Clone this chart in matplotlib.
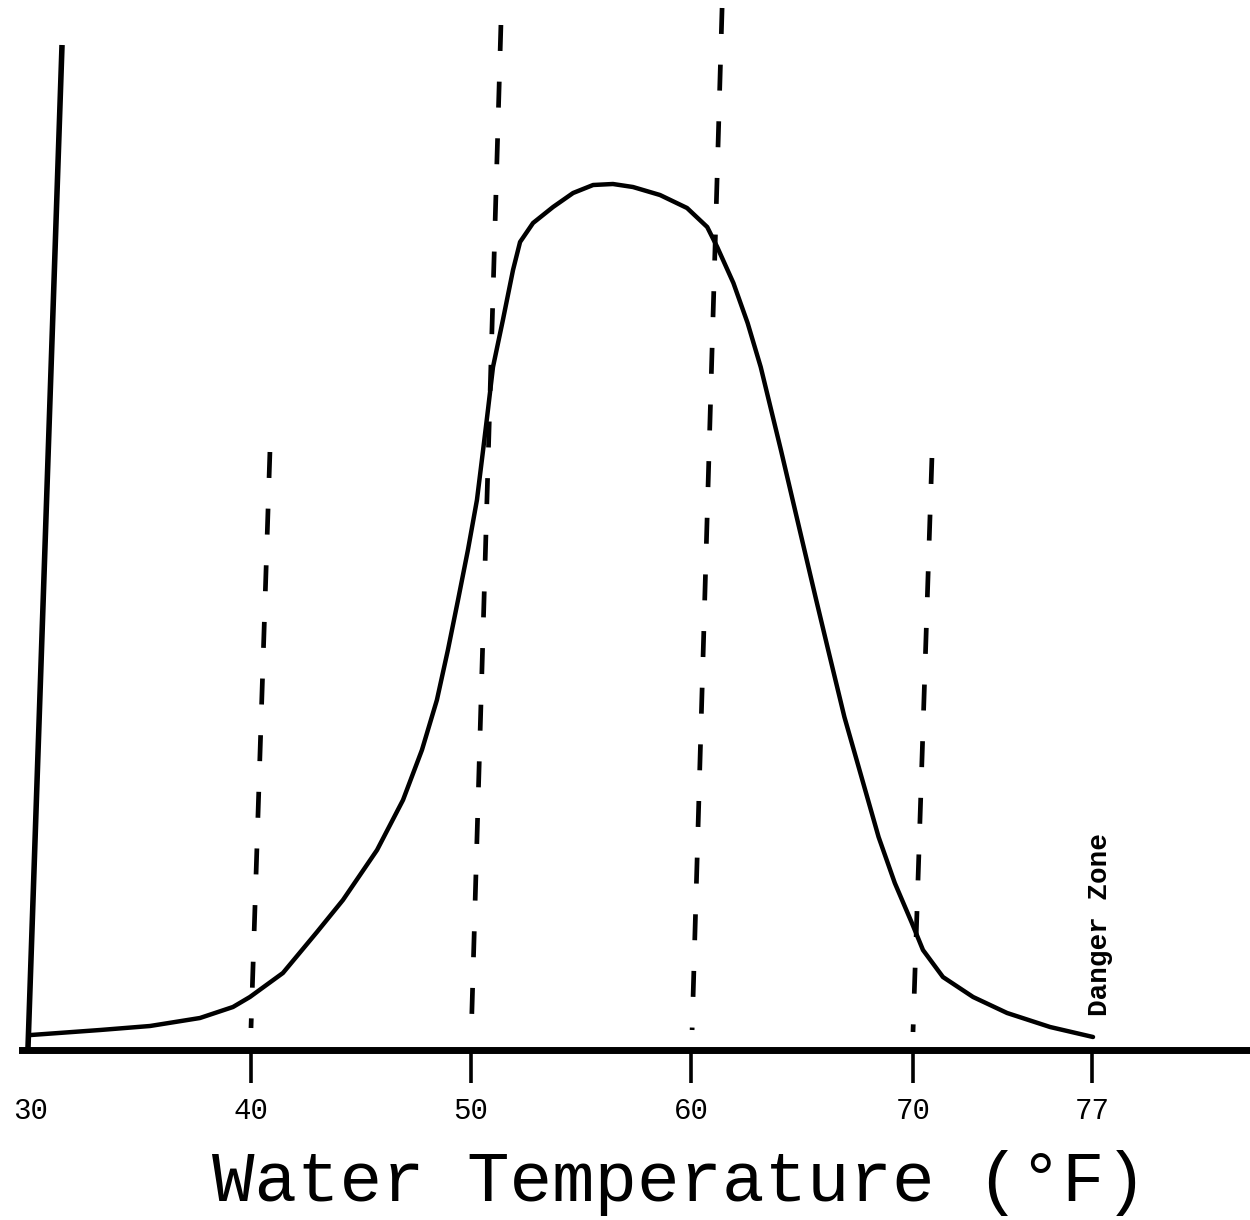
import numpy as np
import matplotlib
matplotlib.use("Agg")
import matplotlib.pyplot as plt

# ---- data ----
tick_temps = [40, 50, 60, 70, 77]
all_label_temps = [30, 40, 50, 60, 70, 77]
all_labels = ["30", "40", "50", "60", "70", "77"]

curve_temp = [30.0, 33.14, 35.41, 37.68, 39.18, 39.95, 41.45, 43.0, 44.18, 45.73,
              46.91, 47.77, 48.45, 48.95, 49.41, 49.86, 50.27, 50.55, 50.77, 51.0,
              51.45, 51.91, 52.23, 52.82, 53.73, 54.64, 55.55, 56.45, 57.36, 58.59,
              59.82, 60.73, 61.18, 61.91, 62.55, 63.14, 64.05, 64.95, 65.64, 66.18,
              66.91, 67.68, 68.45, 69.18, 69.95, 70.39, 71.17, 72.35, 73.68, 75.36,
              77.04]
curve_val = [1.5, 2.0, 2.4, 3.2, 4.3, 5.3, 7.7, 11.8, 15.0, 20.0,
             25.0, 30.0, 35.0, 40.0, 45.0, 50.0, 55.0, 60.0, 64.0, 68.3,
             73.0, 78.0, 80.8, 82.7, 84.3, 85.7, 86.5, 86.6, 86.3, 85.5,
             84.2, 82.3, 80.3, 76.7, 72.7, 68.3, 60.0, 51.5, 45.0, 40.0,
             33.3, 27.3, 21.3, 16.7, 12.7, 10.0, 7.3, 5.3, 3.7, 2.3,
             1.3]

# dashed guide lines: (bottom temp, bottom value, top temp, top value)
guide_bottom_temp = [40.0, 50.0, 60.05, 70.0]
guide_bottom_val = [2.2, 0.8, 2.0, 1.8]
guide_top_temp = [40.86, 51.36, 61.4, 70.74]
guide_top_val = [59.8, 102.5, 104.2, 59.2]

yaxis_temp = [29.86, 31.41]
yaxis_val = [0.0, 100.5]

danger_label = "Danger Zone"
xlabel = "Water Temperature (°F)"

# ---- hand-drawn (non-uniform) temperature axis ----
anchor_temp = np.array([20, 30, 40, 50, 60, 70, 77, 90], dtype=float)
anchor_pos = np.array([-189, 31, 251, 471, 691, 913, 1092, 1424], dtype=float)


def fwd(x):
    return np.interp(x, anchor_temp, anchor_pos)


def inv(p):
    return np.interp(p, anchor_pos, anchor_temp)


plt.rcParams["font.family"] = ["Liberation Mono", "DejaVu Sans Mono"]
mono = ["Liberation Mono", "DejaVu Sans Mono"]

fig = plt.figure(figsize=(12.5, 12.2), dpi=100)
ax = fig.add_axes([0, 0, 1, 1])
ax.set_xscale("function", functions=(fwd, inv))
ax.set_xlim(inv(0), inv(1250))
ax.set_ylim(-17, 105)

for s in ["left", "top", "right"]:
    ax.spines[s].set_visible(False)
ax.spines["bottom"].set_position(("data", 0))
ax.spines["bottom"].set_linewidth(5)
ax.spines["bottom"].set_bounds(inv(22), inv(1250))
ax.set_yticks([])

ax.set_xticks(all_label_temps)
ax.set_xticklabels(all_labels, fontfamily=mono, fontsize=21)
ax.xaxis.set_minor_locator(matplotlib.ticker.NullLocator())
ax.tick_params(axis="x", which="major", direction="out", length=0, width=0,
               pad=34, colors="black")

# tick marks below the axis line
ax.vlines(tick_temps, -3.3, 0, colors="black", lw=2.6, clip_on=False,
          zorder=3)

# y axis (slanted, hand drawn)
ax.plot(yaxis_temp, yaxis_val, color="black", lw=4, solid_capstyle="butt",
        clip_on=False)

# dashed guides (drawn from the top so the pattern starts with a full dash)
for bt, bv, tt, tv in zip(guide_bottom_temp, guide_bottom_val,
                          guide_top_temp, guide_top_val):
    ax.plot([tt, bt], [tv, bv], color="black", lw=3.4, dashes=(5.5, 6.5),
            solid_capstyle="butt", dash_capstyle="butt")

# curve
ax.plot(curve_temp, curve_val, color="black", lw=3.2, solid_joinstyle="round",
        solid_capstyle="round")

ax.text(77.3, 12.5, danger_label, rotation=90, ha="center", va="center",
        fontfamily=mono, fontsize=20, fontweight="bold")

fig.text(679 / 1250, 1 - 1183 / 1220, xlabel, ha="center", va="center",
         fontfamily=mono, fontsize=51)

fig.savefig("out.png", dpi=100)
